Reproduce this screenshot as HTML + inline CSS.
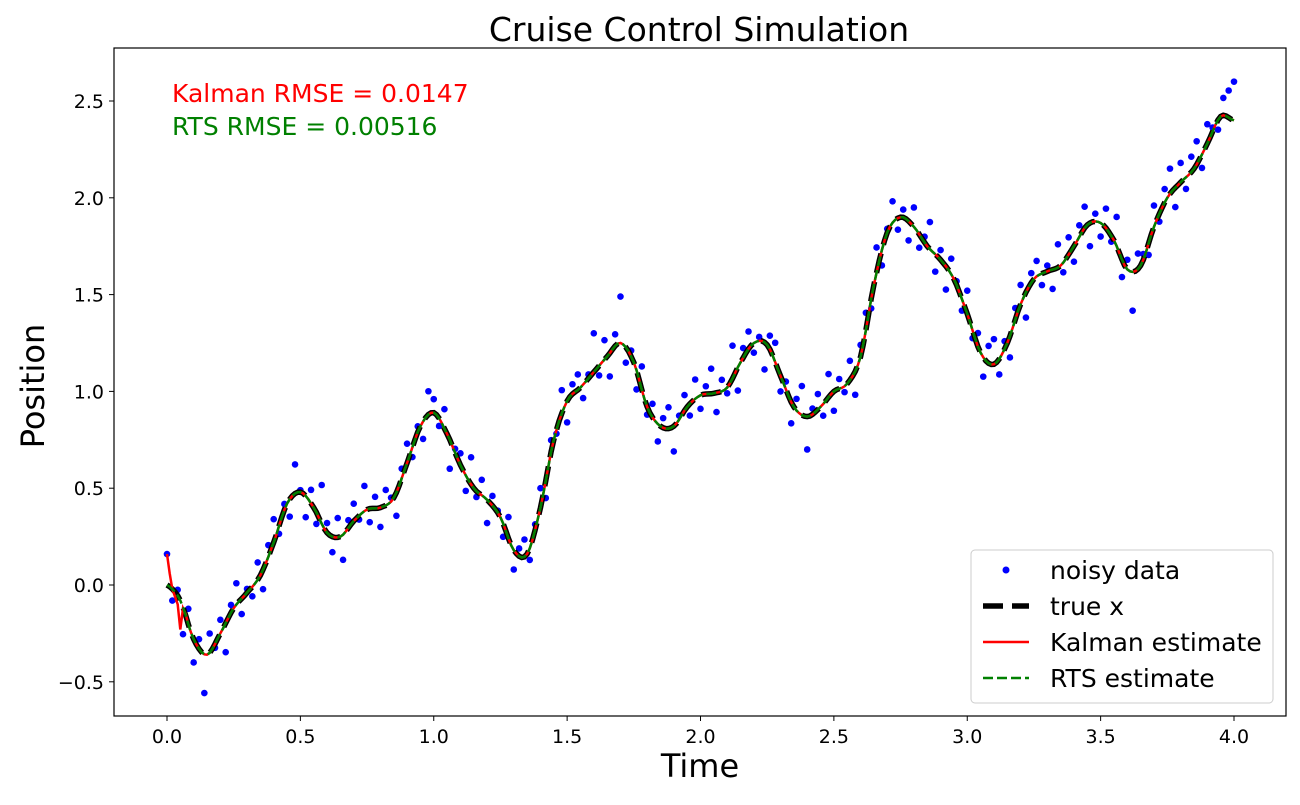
<!DOCTYPE html>
<html><head><meta charset="utf-8"><style>
html,body{margin:0;padding:0;background:#fff;}
svg text{font-family:"DejaVu Sans","Liberation Sans",sans-serif;}
</style></head><body>
<svg id="chart" width="1300" height="800" xmlns="http://www.w3.org/2000/svg">
<rect x="0" y="0" width="1300" height="800" fill="#fff"/>
<text x="699" y="41" font-size="33" text-anchor="middle">Cruise Control Simulation</text>
<g id="plot"></g>
<rect x="114" y="48" width="1172" height="668" fill="none" stroke="#000" stroke-width="1.2"/>
<g id="axes"></g>
<text x="700" y="777" font-size="32" text-anchor="middle">Time</text>
<text transform="translate(44,386) rotate(-90)" font-size="32" text-anchor="middle">Position</text>
<text x="172" y="102" font-size="25" fill="#ff0000">Kalman RMSE = 0.0147</text>
<text x="172" y="135" font-size="25" fill="#008000">RTS RMSE = 0.00516</text>
<g>
<rect x="971" y="550" width="302" height="153" rx="4" fill="#fff" fill-opacity="0.85" stroke="#ccc" stroke-width="1"/>
<circle cx="1006" cy="570" r="3.5" fill="#0000ff"/>
<text x="1050" y="579" font-size="25">noisy data</text>
<line x1="983" y1="606" x2="1029" y2="606" stroke="#000" stroke-width="5.5" stroke-dasharray="20,9"/>
<text x="1050" y="615" font-size="25">true x</text>
<line x1="983" y1="642" x2="1029" y2="642" stroke="#ff0000" stroke-width="2.5"/>
<text x="1050" y="651" font-size="25">Kalman estimate</text>
<line x1="983" y1="678" x2="1029" y2="678" stroke="#008000" stroke-width="2.5" stroke-dasharray="10,4"/>
<text x="1050" y="687" font-size="25">RTS estimate</text>
</g>
</svg>
<script>
const trueX = [0.0,-0.08,-0.28,-0.36,-0.25,-0.12,-0.04,0.05,0.22,0.42,0.48,0.40,0.27,0.25,0.33,0.39,0.40,0.45,0.63,0.82,0.89,0.78,0.62,0.50,0.44,0.35,0.18,0.16,0.40,0.75,0.95,1.02,1.10,1.18,1.25,1.15,0.92,0.82,0.82,0.92,0.98,0.99,1.02,1.15,1.25,1.24,1.08,0.92,0.87,0.92,1.00,1.04,1.18,1.55,1.82,1.90,1.85,1.75,1.68,1.58,1.40,1.20,1.14,1.25,1.45,1.58,1.62,1.65,1.75,1.86,1.87,1.78,1.63,1.65,1.85,2.00,2.08,2.15,2.28,2.42,2.40];
const kalmanStart = [0.16,0.06,-0.02,-0.06,-0.1,-0.23,-0.12,-0.15];
const noiseDev = [0.16,-0.06,0.03,-0.14,0.08,-0.12,0.05,-0.2,0.1,-0.02,0.07,-0.15,0.04,0.11,-0.08,0.02,-0.05,0.09,-0.1,0.06,
0.12,-0.04,0.03,-0.09,0.15,0.01,-0.11,0.07,-0.06,0.2,0.05,-0.08,0.1,-0.13,0.04,0.09,-0.02,0.13,-0.07,0.06,
-0.1,0.08,0.02,-0.12,0.05,0.1,-0.05,0.03,-0.09,0.12,0.07,-0.04,0.1,-0.15,0.02,0.06,-0.08,0.14,-0.03,0.08,
-0.12,0.05,0.01,-0.07,0.11,-0.1,0.04,0.09,-0.06,0.03,0.1,-0.09,0.06,-0.02,0.12,-0.11,0.05,0.08,-0.07,0.02,
0.2,-0.05,0.1,-0.12,0.06,0.24,-0.08,0.03,-0.1,0.12,-0.04,0.07,-0.09,0.05,0.11,-0.13,0.02,0.08,-0.06,0.1,
-0.07,0.04,0.13,-0.1,0.06,-0.03,0.17,-0.12,0.05,0.09,-0.05,0.02,-0.14,0.07,0.1,-0.08,0.04,-0.11,0.06,0.15,
-0.17,0.03,0.08,-0.06,0.12,-0.1,0.05,-0.03,0.1,-0.12,0.06,0.09,-0.05,0.13,-0.08,0.02,0.11,-0.06,0.04,-0.1,
0.1,-0.07,0.03,0.14,-0.09,0.05,-0.12,0.08,0.02,-0.06,0.12,-0.04,0.07,-0.1,0.09,0.13,-0.08,0.04,-0.11,0.06,
0.1,-0.13,0.05,0.08,-0.06,0.03,-0.1,0.12,-0.05,0.09,-0.08,0.06,0.11,-0.12,0.04,-0.07,0.1,-0.03,0.15,-0.09,
0.05,-0.2,0.08,0.03,-0.06,0.11,-0.04,0.07,0.13,-0.1,0.1,-0.06,0.08,0.12,-0.07,0.1,0.02,-0.05,0.09,0.14,0.2];
const xTicks = [0.0,0.5,1.0,1.5,2.0,2.5,3.0,3.5,4.0];
const yTicks = [-0.5,0.0,0.5,1.0,1.5,2.0,2.5];
const xTickLabels = ["0.0","0.5","1.0","1.5","2.0","2.5","3.0","3.5","4.0"];
const yTickLabels = ["\u22120.5","0.0","0.5","1.0","1.5","2.0","2.5"];

const NS="http://www.w3.org/2000/svg";
function xs(t){return 167+t*266.75;}
function ys(v){return 585-v*193.6;}
function interp(t){
  const s=t/0.05, i=Math.min(Math.floor(s),trueX.length-2), f=s-i;
  const p0=trueX[Math.max(i-1,0)],p1=trueX[i],p2=trueX[i+1],p3=trueX[Math.min(i+2,trueX.length-1)];
  return 0.5*((2*p1)+(-p0+p2)*f+(2*p0-5*p1+4*p2-p3)*f*f+(-p0+3*p1-3*p2+p3)*f*f*f);
}
function smoothPath(){
  let d="";
  for(let k=0;k<=400;k++){
    const t=k*0.01;
    d+=(k?"L":"M")+xs(t).toFixed(1)+","+ys(interp(t)).toFixed(1);
  }
  return d;
}
const plot=document.getElementById('plot');
for(let i=0;i<noiseDev.length;i++){
  const t=i*0.02;
  const c=document.createElementNS(NS,'circle');
  
  
  c.setAttribute('cx',xs(t));c.setAttribute('cy',ys(interp(t)+noiseDev[i]));
  c.setAttribute('r',3.3);c.setAttribute('fill','#0000ff');
  plot.appendChild(c);
}
let p=document.createElementNS(NS,'path');


p.setAttribute('d',smoothPath());
p.setAttribute('fill','none');p.setAttribute('stroke','#000');p.setAttribute('stroke-width','5.5');p.setAttribute('stroke-dasharray','20,9');
plot.appendChild(p);
let kd="";
for(let k=0;k<=400;k++){
  const t=k*0.01;
  const v=k<kalmanStart.length?kalmanStart[k]:interp(t);
  kd+=(k?"L":"M")+xs(t).toFixed(1)+","+ys(v).toFixed(1);
}
p=document.createElementNS(NS,'path');


p.setAttribute('d',kd);
p.setAttribute('fill','none');p.setAttribute('stroke','#ff0000');p.setAttribute('stroke-width','2.5');
plot.appendChild(p);
p=document.createElementNS(NS,'path');


p.setAttribute('d',smoothPath());
p.setAttribute('fill','none');p.setAttribute('stroke','#008000');p.setAttribute('stroke-width','2.5');p.setAttribute('stroke-dasharray','10,4');
plot.appendChild(p);
const axes=document.getElementById('axes');
xTicks.forEach((t,i)=>{
  const l=document.createElementNS(NS,'line');
  
  
  l.setAttribute('x1',xs(t));l.setAttribute('x2',xs(t));l.setAttribute('y1',716);l.setAttribute('y2',721);l.setAttribute('stroke','#000');
  axes.appendChild(l);
  const tx=document.createElementNS(NS,'text');
  
  
  tx.setAttribute('x',xs(t));tx.setAttribute('y',743);tx.setAttribute('font-size','19');tx.setAttribute('text-anchor','middle');
  tx.textContent=xTickLabels[i];axes.appendChild(tx);
});
yTicks.forEach((v,i)=>{
  const l=document.createElementNS(NS,'line');
  
  
  l.setAttribute('x1',109);l.setAttribute('x2',114);l.setAttribute('y1',ys(v));l.setAttribute('y2',ys(v));l.setAttribute('stroke','#000');
  axes.appendChild(l);
  const tx=document.createElementNS(NS,'text');
  
  
  tx.setAttribute('x',104);tx.setAttribute('y',ys(v)+7);tx.setAttribute('font-size','19');tx.setAttribute('text-anchor','end');
  tx.textContent=yTickLabels[i];axes.appendChild(tx);
});
</script>
</body></html>
